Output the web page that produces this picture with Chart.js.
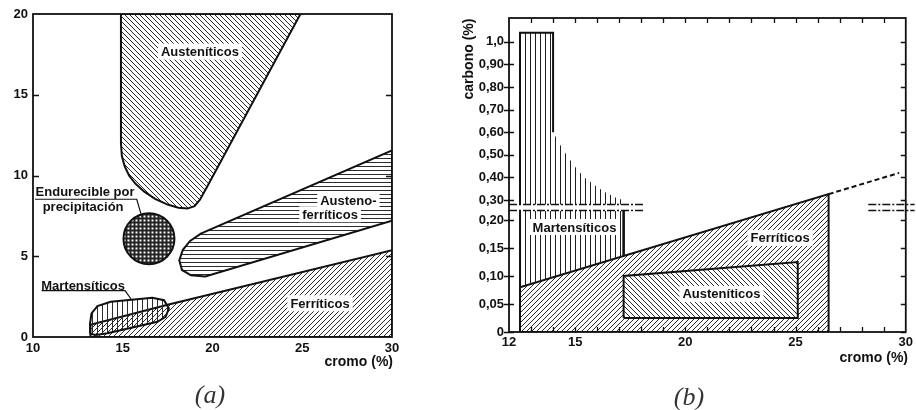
<!DOCTYPE html>
<html lang="es">
<head>
  <meta charset="UTF-8">
  <title>Aceros inoxidables - cromo / carbono</title>
  <script src="https://cdn.jsdelivr.net/npm/chart.js"></script>
  <style>
    body {
      margin: 0;
      width: 916px;
      height: 410px;
      position: relative;
      overflow: hidden;
      background: #fff;
      font-family: "Liberation Sans", Arial, sans-serif;
    }
    canvas { position: absolute; top: 0; }
    #chartA { left: 0; }
    #chartB { left: 458px; }
    .axis-title {
      position: absolute;
      font-weight: bold;
      font-size: 14px;
      line-height: 16px;
      color: #111;
      white-space: nowrap;
    }
    .caption {
      position: absolute;
      width: 60px;
      text-align: center;
      font-family: "Liberation Serif", "DejaVu Serif", serif;
      font-style: italic;
      font-size: 26px;
      line-height: 30px;
      color: #333;
    }
  </style>
</head>
<body>
  <canvas id="chartA" width="458" height="410"></canvas>
  <canvas id="chartB" width="458" height="410"></canvas>

  <div class="axis-title" style="right:523px; top:353px;">cromo (%)</div>
  <div class="axis-title" style="right:8px; top:349px;">cromo (%)</div>
  <div class="axis-title" style="left:418px; top:51px; width:100px; text-align:center; transform:rotate(-90deg);">carbono (%)</div>
  <div class="caption" style="left:180px; top:380px;">(a)</div>
  <div class="caption" style="left:659px; top:382px;">(b)</div>

  <script>
    // ---- (a) cromo (%) vs níquel (%) ----
    const cromoTicksA = [10, 15, 20, 25, 30];
    const niquelTicksA = [0, 5, 10, 15, 20];
    const niquelInnerTicksA = [5, 10, 15];

    const austeniticosA = [[14.9, 20], [14.9, 12.0], [14.95, 11.2], [15.1, 10.6], [15.35, 10.0], [15.7, 9.5],
      [16.2, 9.0], [16.8, 8.55], [17.5, 8.2], [18.1, 8.0], [18.6, 7.95], [19.0, 8.1], [19.3, 8.5],
      [19.7, 9.3], [24.9, 20], [14.9, 20]];
    const austenoFerriticosA = [[30, 11.55], [19.35, 6.4], [18.75, 5.95], [18.35, 5.4], [18.15, 4.75],
      [18.3, 4.15], [18.8, 3.82], [19.6, 3.75], [30, 7.2], [30, 11.55]];
    const ferriticosA = [[13.2, 0], [13.2, 0.75], [17.5, 2.0], [30, 5.37], [30, 0], [13.2, 0]];
    const martensiticosA = [[13.18, 0.2], [13.18, 0.84], [13.26, 1.46], [13.59, 1.91], [14.33, 2.18],
      [16.65, 2.43], [17.3, 2.28], [17.57, 1.77], [17.39, 1.25], [16.93, 0.94], [14.15, 0.23],
      [13.5, 0.12], [13.18, 0.2]];
    const precipitacionA = [[16.46, 6.09]];
    const guiaPrecipitacionA = [[10.11, 8.53], [15.78, 8.53], [16.06, 7.45]];
    const guiaMartensiticosA = [[10.48, 2.87], [15.13, 2.87], [15.5, 2.29]];

    // ---- (b) cromo (%) vs carbono (%), eje partido ----
    const cromoTicksB = [12, 15, 20, 25, 30];
    const cromoMinorTicksB = [13, 14, 15, 16, 17, 18, 19, 20, 21, 22, 23, 24, 25, 26, 27, 28, 29];
    const carbonoTicksB = [0, 0.05, 0.10, 0.15, 0.20, 0.30, 0.40, 0.50, 0.60, 0.70, 0.80, 0.90, 1.0];
    const carbonoLabelsB = ['0', '0,05', '0,10', '0,15', '0,20', '0,30', '0,40', '0,50', '0,60',
      '0,70', '0,80', '0,90', '1,0'];

    const martensiticosAltoB = [[12.5, 0.28], [12.5, 1.04], [14, 1.04], [14, 0.60], [14.37, 0.536],
      [14.67, 0.49], [15.05, 0.44], [15.42, 0.40], [15.87, 0.366], [16.32, 0.337], [16.92, 0.307],
      [17.2, 0.30], [17.2, 0.28], [12.5, 0.28]];
    const martensiticosBajoB = [[12.5, 0.08], [12.5, 0.216], [17.2, 0.216], [17.2, 0.136], [12.5, 0.08]];
    const bordeMartAltoB = [[12.5, 0.28], [12.5, 1.04], [14, 1.04], [14, 0.60]];
    const bordeMartIzqB = [[12.5, 0.08], [12.5, 0.216]];
    const bordeMartDerB = [[17.2, 0.216], [17.2, 0.136]];
    const ferriticosB = [[12.5, 0], [12.5, 0.08], [26.5, 0.326], [26.5, 0], [12.5, 0]];
    const austeniticosB = [[17.2, 0.025], [17.2, 0.10], [25.1, 0.125], [25.1, 0.025], [17.2, 0.025]];
    const limiteFerriticoB = [[26.5, 0.326], [29.7, 0.42]];

    // broken carbon axis: lower section 0-0.2 stretched, upper 0.3-1.0 compressed
    function carbToAxis(c) {
      return c <= 0.25 ? c * 5.6 : 1.32 + (c - 0.30) * 2.26;
    }

    const FONT = '"Liberation Sans", Arial, sans-serif';
    const INK = '#111';
    const NONE = 'rgba(0,0,0,0)';
    Chart.defaults.font.family = FONT;

    function hatch(kind, size, width, bg, color) {
      const c = document.createElement('canvas');
      c.width = c.height = size;
      const g = c.getContext('2d');
      if (bg) { g.fillStyle = bg; g.fillRect(0, 0, size, size); }
      g.strokeStyle = color || '#2b2b2b';
      g.lineWidth = width;
      g.beginPath();
      const m = Math.floor(size / 2) + 0.5;
      if (kind === 'up') {
        g.moveTo(0, size); g.lineTo(size, 0);
        g.moveTo(-1, 1); g.lineTo(1, -1);
        g.moveTo(size - 1, size + 1); g.lineTo(size + 1, size - 1);
      } else if (kind === 'down') {
        g.moveTo(0, 0); g.lineTo(size, size);
        g.moveTo(size - 1, -1); g.lineTo(size + 1, 1);
        g.moveTo(-1, size - 1); g.lineTo(1, size + 1);
      } else if (kind === 'vert') {
        g.moveTo(m, 0); g.lineTo(m, size);
      } else if (kind === 'horiz') {
        g.moveTo(0, m); g.lineTo(size, m);
      } else if (kind === 'grid') {
        g.moveTo(m, 0); g.lineTo(m, size);
        g.moveTo(0, m); g.lineTo(size, m);
      }
      g.stroke();
      return g.createPattern(c, 'repeat');
    }

    const ptsA = arr => arr.map(([x, y]) => ({x, y}));
    const ptsB = arr => arr.map(([x, c]) => ({x, y: carbToAxis(c)}));

    function region(data, pattern, order, extra) {
      return Object.assign({
        data, showLine: true, fill: 'shape', backgroundColor: pattern,
        borderColor: INK, borderWidth: 2, pointRadius: 0, tension: 0, order
      }, extra || {});
    }
    function edge(data, width, order, extra) {
      return Object.assign({
        data, showLine: true, fill: false, borderColor: INK, borderWidth: width,
        pointRadius: 0, tension: 0, order
      }, extra || {});
    }

    // frame + inward ticks + axis break marks
    const framePlugin = {
      id: 'frame',
      afterDatasetsDraw(chart, args, opts) {
        const {ctx, chartArea: a, scales} = chart;
        const yPix = v => scales.y.getPixelForValue(opts.carbon ? carbToAxis(v) : v);
        const L = opts.tickLen;
        ctx.save();
        ctx.strokeStyle = INK;
        ctx.lineWidth = 1.3;
        ctx.beginPath();
        (opts.yTicks || []).forEach(v => {
          const y = Math.round(yPix(v)) + 0.5;
          ctx.moveTo(a.left - (opts.crossLeft ? L : 0), y); ctx.lineTo(a.left + L, y);
          ctx.moveTo(a.right - L, y); ctx.lineTo(a.right, y);
        });
        (opts.xTicks || []).forEach(v => {
          const x = Math.round(scales.x.getPixelForValue(v)) + 0.5;
          ctx.moveTo(x, a.top); ctx.lineTo(x, a.top + L);
          ctx.moveTo(x, a.bottom); ctx.lineTo(x, a.bottom - L);
        });
        ctx.stroke();
        ctx.lineWidth = 1.8;
        ctx.strokeRect(a.left, a.top, a.right - a.left, a.bottom - a.top);
        if (opts.breaks) {
          ctx.lineWidth = 1.4;
          ctx.setLineDash([8, 2, 2, 2]);
          ctx.beginPath();
          opts.breaks.levels.forEach(d => {
            const y = Math.round(scales.y.getPixelForValue(d)) + 0.5;
            opts.breaks.spans.forEach(([x0, x1]) => {
              ctx.moveTo(scales.x.getPixelForValue(x0), y);
              ctx.lineTo(scales.x.getPixelForValue(x1), y);
            });
          });
          ctx.stroke();
        }
        ctx.restore();
      }
    };

    // region names, optional white box behind
    const labelPlugin = {
      id: 'regionLabels',
      afterDraw(chart, args, opts) {
        const {ctx, scales} = chart;
        ctx.save();
        ctx.font = 'bold 13px ' + FONT;
        ctx.textAlign = 'center';
        ctx.textBaseline = 'middle';
        (opts.items || []).forEach(it => {
          const px = scales.x.getPixelForValue(it.x);
          const py = scales.y.getPixelForValue(opts.carbon ? carbToAxis(it.y) : it.y);
          const w = ctx.measureText(it.text).width;
          if (it.box) {
            ctx.fillStyle = '#fff';
            ctx.fillRect(px - w / 2 - 3, py - 8, w + 6, 16);
          }
          ctx.fillStyle = INK;
          ctx.fillText(it.text, px, py + 1);
        });
        ctx.restore();
      }
    };

    const tickFont = {size: 13, weight: 'bold', family: FONT};

    // ---------- chart (a) ----------
    new Chart(document.getElementById('chartA'), {
      type: 'scatter',
      data: {
        datasets: [
          edge(ptsA(guiaPrecipitacionA), 1.2, 0),
          edge(ptsA(guiaMartensiticosA), 1.2, 0),
          {data: ptsA(precipitacionA), showLine: false, pointRadius: 25.5, pointBorderWidth: 2,
            pointBorderColor: INK, pointBackgroundColor: hatch('grid', 4, 2, '#fff', '#222'), order: 1},
          region(ptsA(martensiticosA), hatch('vert', 5, 1), 2),
          region(ptsA(ferriticosA), hatch('up', 5, 1), 3),
          region(ptsA(austenoFerriticosA), hatch('horiz', 4, 1), 4),
          region(ptsA(austeniticosA), hatch('down', 5, 1), 5)
        ]
      },
      options: {
        responsive: false,
        animation: false,
        layout: {autoPadding: false, padding: {top: 14, right: 66, left: 0, bottom: 0}},
        plugins: {
          legend: {display: false},
          tooltip: {enabled: false},
          frame: {tickLen: 6, yTicks: niquelInnerTicksA},
          regionLabels: {items: [
            {text: 'Austeníticos', x: 19.3, y: 17.67, box: true},
            {text: 'Austeno-', x: 27.57, y: 8.48, box: true},
            {text: 'ferríticos', x: 26.55, y: 7.6, box: true},
            {text: 'Ferríticos', x: 25.99, y: 2.09, box: true},
            {text: 'Endurecible por', x: 12.9, y: 9.0},
            {text: 'precipitación', x: 12.79, y: 8.07},
            {text: 'Martensíticos', x: 12.79, y: 3.22}
          ]}
        },
        scales: {
          x: {
            type: 'linear', min: 10, max: 30,
            afterBuildTicks: axis => { axis.ticks = cromoTicksA.map(v => ({value: v})); },
            afterFit: s => { s.height = 73; },
            grid: {display: false, drawTicks: false},
            border: {display: false},
            ticks: {font: tickFont, color: INK, padding: 4, maxRotation: 0, autoSkip: false}
          },
          y: {
            type: 'linear', min: 0, max: 20,
            afterBuildTicks: axis => { axis.ticks = niquelTicksA.map(v => ({value: v})); },
            afterFit: s => { s.width = 33; },
            grid: {display: false, drawTicks: false},
            border: {display: false},
            ticks: {font: tickFont, color: INK, padding: 5, autoSkip: false}
          }
        }
      },
      plugins: [framePlugin, labelPlugin]
    });

    // ---------- chart (b) ----------
    const vertB = hatch('vert', 5, 1, null, '#1e1e1e');

    new Chart(document.getElementById('chartB'), {
      type: 'scatter',
      data: {
        datasets: [
          edge(ptsB(limiteFerriticoB), 2, 0, {borderDash: [5, 3]}),
          edge(ptsB(bordeMartAltoB), 2, 0),
          edge(ptsB(bordeMartIzqB), 2, 0),
          edge(ptsB(bordeMartDerB), 2.6, 0),
          region(ptsB(austeniticosB), hatch('down', 5, 1, '#fff'), 1),
          region(ptsB(martensiticosAltoB), vertB, 2, {borderWidth: 0, borderColor: NONE}),
          region(ptsB(martensiticosBajoB), vertB, 2, {borderWidth: 0, borderColor: NONE}),
          region(ptsB(ferriticosB), hatch('up', 5, 1), 3)
        ]
      },
      options: {
        responsive: false,
        animation: false,
        layout: {autoPadding: false, padding: {top: 18, right: 9, left: 0, bottom: 0}},
        plugins: {
          legend: {display: false},
          tooltip: {enabled: false},
          frame: {tickLen: 5, carbon: true, crossLeft: true, yTicks: carbonoTicksB, xTicks: cromoMinorTicksB,
            breaks: {levels: [1.22, 1.28], spans: [[12, 18.1], [28.3, 30.4]]}},
          regionLabels: {carbon: true, items: [
            {text: 'Martensíticos', x: 14.97, y: 0.1875, box: true},
            {text: 'Ferríticos', x: 24.3, y: 0.168, box: true},
            {text: 'Austeníticos', x: 21.64, y: 0.068, box: true}
          ]}
        },
        scales: {
          x: {
            type: 'linear', min: 12, max: 30,
            afterBuildTicks: axis => { axis.ticks = cromoTicksB.map(v => ({value: v})); },
            afterFit: s => { s.height = 78; },
            grid: {display: false, drawTicks: false},
            border: {display: false},
            ticks: {font: tickFont, color: INK, padding: 3, maxRotation: 0, autoSkip: false}
          },
          y: {
            type: 'linear', min: 0, max: 3.14,
            afterBuildTicks: axis => { axis.ticks = carbonoTicksB.map(c => ({value: carbToAxis(c)})); },
            afterFit: s => { s.width = 51; },
            grid: {display: false, drawTicks: false},
            border: {display: false},
            ticks: {font: tickFont, color: INK, padding: 5, autoSkip: false,
              callback: (v, i) => carbonoLabelsB[i]}
          }
        }
      },
      plugins: [framePlugin, labelPlugin]
    });
  </script>
</body>
</html>
